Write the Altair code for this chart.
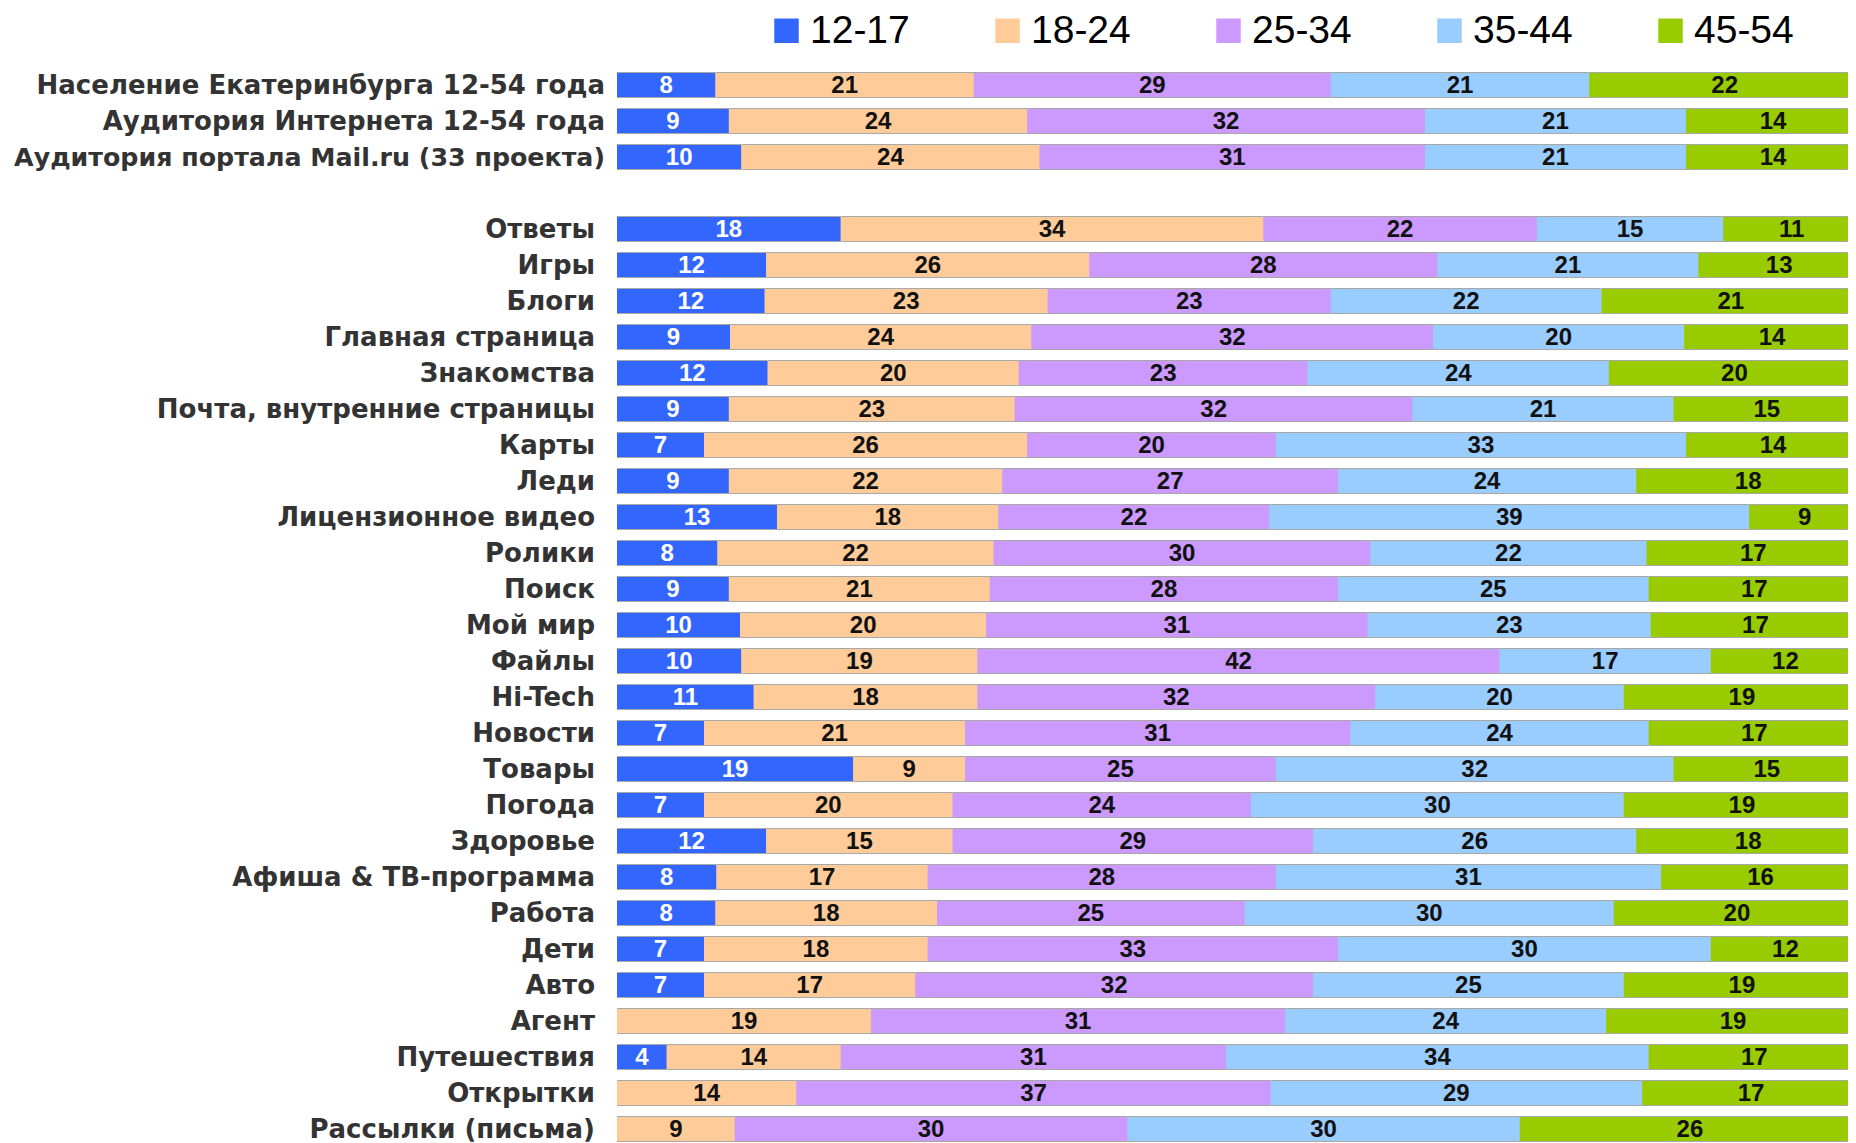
import altair as alt
import pandas as pd

groups = ["12-17", "18-24", "25-34", "35-44", "45-54"]
colors = ["#3366FF", "#FFCC99", "#CC99FF", "#99CCFF", "#99CC00"]

top_categories = [
    "Население Екатеринбурга 12-54 года",
    "Аудитория Интернета 12-54 года",
    "Аудитория портала Mail.ru (33 проекта)",
]
spacer = " "
project_categories = [
    "Ответы", "Игры", "Блоги", "Главная страница", "Знакомства",
    "Почта, внутренние страницы", "Карты", "Леди", "Лицензионное видео",
    "Ролики", "Поиск", "Мой мир", "Файлы", "Hi-Tech", "Новости", "Товары",
    "Погода", "Здоровье", "Афиша & ТВ-программа", "Работа", "Дети", "Авто",
    "Агент", "Путешествия", "Открытки", "Рассылки (письма)",
]
categories = top_categories + project_categories

v_12_17 = [8, 9, 10, 18, 12, 12, 9, 12, 9, 7, 9, 13, 8, 9, 10, 10, 11, 7, 19, 7, 12, 8, 8, 7, 7, None, 4, None, None]
v_18_24 = [21, 24, 24, 34, 26, 23, 24, 20, 23, 26, 22, 18, 22, 21, 20, 19, 18, 21, 9, 20, 15, 17, 18, 18, 17, 19, 14, 14, 9]
v_25_34 = [29, 32, 31, 22, 28, 23, 32, 23, 32, 20, 27, 22, 30, 28, 31, 42, 32, 31, 25, 24, 29, 28, 25, 33, 32, 31, 31, 37, 30]
v_35_44 = [21, 21, 21, 15, 21, 22, 20, 24, 21, 33, 24, 39, 22, 25, 23, 17, 20, 24, 32, 30, 26, 31, 30, 30, 25, 24, 34, 29, 30]
v_45_54 = [22, 14, 14, 11, 13, 21, 14, 20, 15, 14, 18, 9, 17, 17, 17, 12, 19, 17, 15, 19, 18, 16, 20, 12, 19, 19, 17, 17, 26]
series = [v_12_17, v_18_24, v_25_34, v_35_44, v_45_54]

rows = []
for i, cat in enumerate(categories):
    for j, g in enumerate(groups):
        val = series[j][i]
        if val:
            rows.append({"cat": cat, "group": g, "order": j, "value": val})
df = pd.DataFrame(rows)

y_domain = top_categories + [spacer] + project_categories

base = alt.Chart(df).transform_joinaggregate(
    total="sum(value)", groupby=["cat"]
).transform_window(
    cum="sum(value)", groupby=["cat"], sort=[alt.SortField("order")], frame=[None, 0]
).transform_calculate(
    start="(datum.cum - datum.value) / datum.total",
    end="datum.cum / datum.total",
    mid="(datum.cum - datum.value / 2) / datum.total",
)

y_enc = alt.Y(
    "cat:N",
    scale=alt.Scale(domain=y_domain, range=[0, 1080], paddingInner=0, paddingOuter=0),
    axis=None,
)
x_scale = alt.Scale(domain=[0, 1], range=[0, 1243])

backing = base.mark_bar(height={"band": 26 / 36}, color="#A8A8A8").encode(
    x=alt.X("start:Q", scale=x_scale, axis=None), x2="end:Q", y=y_enc
)

bars = base.mark_bar(height={"band": 24 / 36}).encode(
    x=alt.X("start:Q", scale=x_scale, axis=None),
    x2="end:Q",
    y=y_enc,
    color=alt.Color(
        "group:N",
        scale=alt.Scale(domain=groups, range=colors),
        legend=alt.Legend(
            orient="none", legendX=150, legendY=-56, direction="horizontal",
            columns=5, title=None, symbolType="square", symbolSize=600,
            symbolStrokeWidth=0, labelFont="Liberation Sans", labelFontSize=39,
            labelColor="black", labelOffset=4, columnPadding=78, padding=0,
        ),
    ),
)

values_text = base.mark_text(
    font="Liberation Sans", fontSize=24, fontWeight="bold", baseline="middle",
    align="center", dy=1,
).encode(
    x=alt.X("mid:Q", scale=x_scale, axis=None),
    y=y_enc,
    text="value:Q",
    color=alt.condition("datum.group == '12-17'", alt.value("white"), alt.value("#111111")),
)

cat_df = pd.DataFrame({
    "cat": categories,
    "block": ["top"] * len(top_categories) + ["projects"] * len(project_categories),
})
label_style = dict(font="DejaVu Sans", fontWeight="bold", color="#333333",
                   align="right", baseline="middle", dy=1)
long_label = top_categories[2]
top_labels = alt.Chart(cat_df).transform_filter("datum.block == 'top'").mark_text(
    **label_style).encode(
    x=alt.value(-12), y=y_enc, text="cat:N",
    size=alt.condition(f"datum.cat == '{long_label}'", alt.value(25.3), alt.value(26)),
)
project_labels = alt.Chart(cat_df).transform_filter("datum.block == 'projects'").mark_text(
    fontSize=26, **label_style).encode(x=alt.value(-22), y=y_enc, text="cat:N")

chart = alt.layer(backing, bars, values_text, top_labels, project_labels).properties(
    width=1231, height=1076,
    padding={"left": 609, "top": 59, "right": 0, "bottom": 0},
    autosize=alt.AutoSizeParams(type="none"),
    background="white",
).configure_view(stroke=None)

chart.save("out.html", embed_options={"renderer": "svg", "actions": False})
